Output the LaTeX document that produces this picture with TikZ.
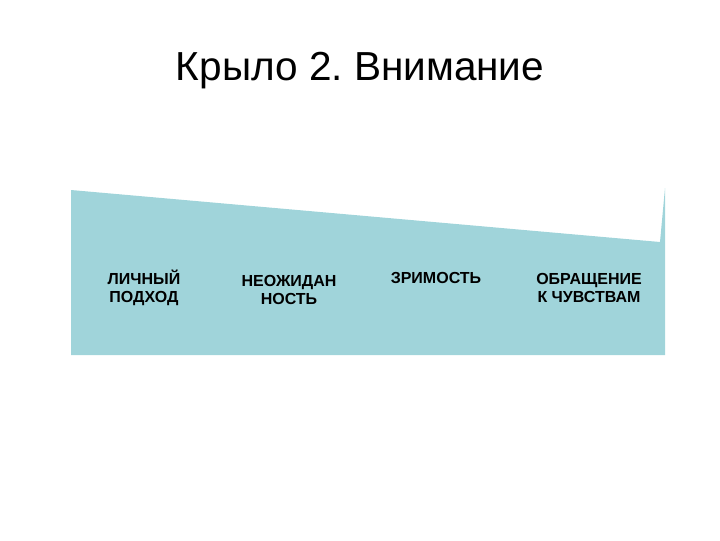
\documentclass[tikz,border=0pt]{standalone}
\usepackage{fontspec}
\setmainfont{Liberation Sans}
\frenchspacing
\definecolor{wing}{RGB}{160,212,218}
\tikzset{ttl/.style = {inner sep=0pt, font=\fontsize{30.4}{34}\selectfont},
           lb/.style = {inner sep=0pt, align=center, font=\fontsize{12}{13.5}\selectfont\bfseries}}

\begin{document}
\begin{tikzpicture}[x=0.75pt, y=-0.75pt]
    \useasboundingbox (0,0) rectangle (720,540);
    \fill[wing] (71,190) -- (660,242) -- (665,188) -- (665,355) -- (71,355) -- cycle;
    \node[ttl] (title) at (360,71) {Крыло 2. Внимание};
    \node[lb] (l1) at (144,288) {ЛИЧНЫЙ\\ПОДХОД};
    \node[lb] (l2) at (289,290) {НЕОЖИДАН\\НОСТЬ};
    \node[lb] (l3) at (436,278) {ЗРИМОСТЬ};
    \node[lb] (l4) at (589,288) {ОБРАЩЕНИЕ\\К ЧУВСТВАМ};
  \end{tikzpicture}
\end{document}
